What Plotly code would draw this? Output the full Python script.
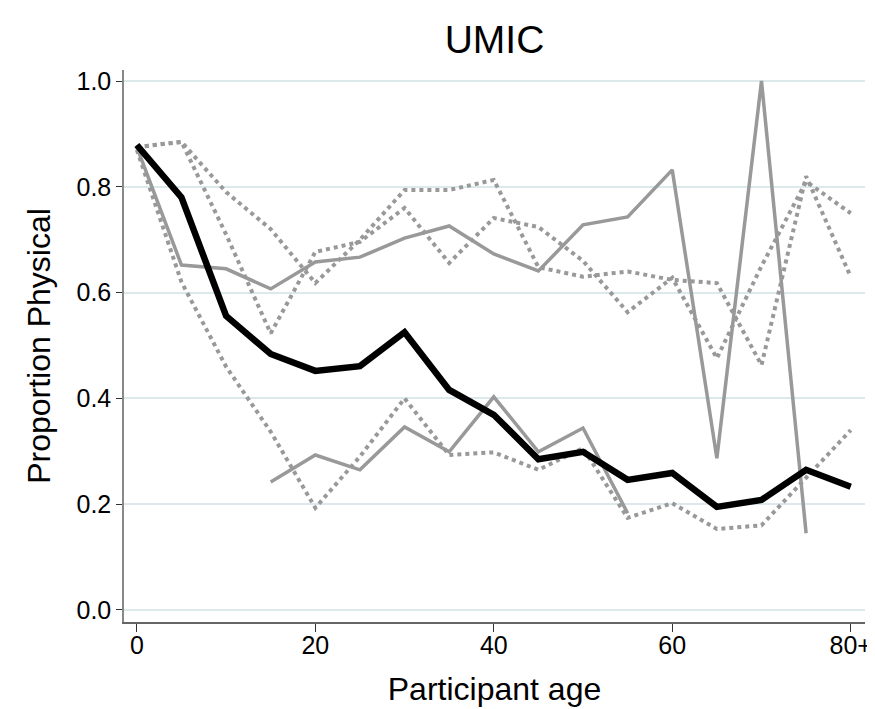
import plotly.graph_objects as go

ages = [0, 5, 10, 15, 20, 25, 30, 35, 40, 45, 50, 55, 60, 65, 70, 75, 80]
overall = [0.879, 0.78, 0.556, 0.484, 0.452, 0.461, 0.525, 0.416, 0.369, 0.285,
           0.299, 0.246, 0.259, 0.195, 0.208, 0.265, 0.233]
solid_upper = [0.875, 0.652, 0.645, 0.607, 0.658, 0.667, 0.703, 0.726, 0.673, 0.641,
               0.728, 0.743, 0.832, 0.287, 1.0, 0.145, None]
solid_lower = [None, None, None, 0.242, 0.293, 0.265, 0.346, 0.299, 0.403, 0.299,
               0.344, 0.183, None, None, None, None, None]
dotted_a = [0.875, 0.885, 0.79, 0.72, 0.618, 0.70, 0.794, 0.794, 0.813, 0.648,
            0.63, 0.64, 0.624, 0.618, 0.463, 0.82, 0.63]
dotted_b = [0.875, 0.885, 0.71, 0.523, 0.677, 0.696, 0.76, 0.656, 0.741, 0.724,
            0.66, 0.563, 0.628, 0.476, 0.65, 0.81, 0.75]
dotted_c = [0.87, 0.62, 0.46, 0.337, 0.193, 0.29, 0.40, 0.293, 0.298, 0.265,
            0.306, 0.174, 0.202, 0.153, 0.16, 0.251, 0.34]

x_tickvals = [0, 20, 40, 60, 80]
x_ticktext = ["0", "20", "40", "60", "80+"]
y_tickvals = [0.0, 0.2, 0.4, 0.6, 0.8, 1.0]
y_ticktext = ["0.0", "0.2", "0.4", "0.6", "0.8", "1.0"]

GRAY = "#999999"
FONT = "Liberation Sans, Arial, sans-serif"
W, H = 867, 701  # page body has an 8px margin

fig = go.Figure()
for ys in (dotted_a, dotted_b, dotted_c):
    fig.add_trace(go.Scatter(x=ages, y=ys, mode="lines",
                             line=dict(color=GRAY, width=4, dash="4px,4px"),
                             showlegend=False, connectgaps=False))
for ys in (solid_upper, solid_lower):
    fig.add_trace(go.Scatter(x=ages, y=ys, mode="lines",
                             line=dict(color=GRAY, width=3.5),
                             showlegend=False, connectgaps=False))
fig.add_trace(go.Scatter(x=ages, y=overall, mode="lines",
                         line=dict(color="black", width=6.5),
                         showlegend=False))

fig.update_layout(
    width=W, height=H,
    margin=dict(l=116, r=3, t=62, b=87),
    paper_bgcolor="white", plot_bgcolor="white",
    font=dict(family=FONT, color="black"),
    title=dict(text="UMIC", x=0.5, xref="paper", y=1 - 31 / H, yref="container",
               xanchor="center", yanchor="middle",
               font=dict(size=39, family=FONT, color="black")),
    xaxis=dict(range=[-1.44, 81.6], tickvals=x_tickvals, ticktext=x_ticktext,
               showgrid=False, zeroline=False, showline=True, linecolor="#666666",
               linewidth=1.5, ticks="outside", ticklen=8, tickcolor="#333333",
               tickwidth=1.2, ticklabeloverflow="allow", ticklabelstandoff=-8,
               tickfont=dict(size=25, family=FONT, color="black"),
               title=dict(text="Participant age", standoff=20,
                          font=dict(size=32, family=FONT, color="black"))),
    yaxis=dict(range=[-0.0227, 1.0208], tickvals=y_tickvals, ticktext=y_ticktext,
               showgrid=True, gridcolor="#dbe9ed", gridwidth=1.5, zeroline=False,
               showline=True, linecolor="#888888", linewidth=1.5, ticks="outside",
               ticklen=6, tickcolor="#333333", tickwidth=1.2,
               tickfont=dict(size=25, family=FONT, color="black"),
               title=dict(text="Proportion Physical", standoff=16,
                          font=dict(size=32, family=FONT, color="black"))),
)

fig.write_html("out.html")
